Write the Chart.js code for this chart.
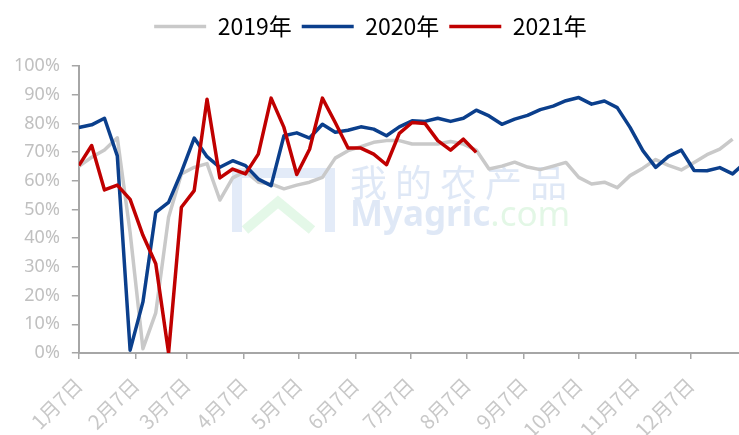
<!DOCTYPE html>
<html>
<head>
<meta charset="utf-8">
<script src="https://cdn.jsdelivr.net/npm/chart.js@4.4.0/dist/chart.umd.min.js"></script>
<style>
  body { margin: 0; background: #fff; }
  #wrap { width: 739px; height: 435px; }
</style>
</head>
<body>
<div id="wrap"><canvas id="rateChart" width="739" height="435"></canvas></div>
<script>
// weekly values (%), one point per week starting 1月7日
const seriesNames = ["2019年", "2020年", "2021年"];
const y2019 = [65, 68.2, 70.7, 75, 42, 1.5, 14, 47.3, 62.4, 64.7,
  66, 53.3, 61, 63.3, 59.5, 58.9, 57.2, 58.5, 59.5, 61.2,
  67.9, 70.5, 71.9, 73.4, 74, 74, 72.8, 72.8, 72.8, 73.7,
  72.8, 70.7, 64.1, 65.1, 66.5, 64.8, 63.9, 65.1, 66.4, 61.2,
  58.9, 59.5, 57.6, 61.8, 64.4, 67.4, 65.4, 63.8, 66.4, 69.1,
  71, 74.5];
const y2020 = [78.6, 79.5, 81.8, 68.7, 1, 17.8, 49, 52.5, 63, 74.9,
  68.4, 64.7, 67, 65.3, 60.6, 58.3, 75.7, 76.7, 74.9, 79.7,
  76.9, 77.6, 78.8, 78, 75.7, 78.8, 80.9, 80.7, 81.8, 80.7,
  81.8, 84.6, 82.6, 79.7, 81.5, 82.8, 84.8, 86, 87.9, 89,
  86.7, 87.8, 85.5, 78.6, 70.5, 64.7, 68.5, 70.7, 63.6, 63.5,
  64.6, 62.4, 66.5];
const y2021 = [65.3, 72.3, 56.8, 58.5, 53.5, 41, 31.1, 0, 50.8, 56.6,
  88.4, 61, 64.1, 62.4, 69.3, 88.8, 78.6, 62.2, 71, 88.8,
  80.3, 71.4, 71.4, 69.3, 65.6, 76.5, 80.3, 80, 74, 70.7,
  74.5, 69.9];
const monthLabels = ["1月7日", "2月7日", "3月7日", "4月7日", "5月7日", "6月7日",
  "7月7日", "8月7日", "9月7日", "10月7日", "11月7日", "12月7日"];
const monthDays = [0, 31, 59, 90, 120, 151, 181, 212, 243, 273, 304, 334];
const colors = ["#c9c9c9", "#0b3f8c", "#c00000"];

const toPoints = (vals) => vals.map((v, i) => ({ x: i * 7, y: v }));

// extra room under the legend
const legendGap = {
  id: "legendGap",
  beforeInit(chart) {
    const fit = chart.legend.fit;
    chart.legend.fit = function () {
      fit.call(this);
      this.height += 18;
    };
  }
};

const watermark = {
  id: "watermark",
  beforeDatasetsDraw(chart) {
    const ctx = chart.ctx;
    ctx.save();
    ctx.globalAlpha = 0.22;
    ctx.strokeStyle = "#7fa3e0";
    ctx.lineWidth = 10;
    ctx.beginPath();
    ctx.moveTo(237, 232); ctx.lineTo(237, 173); ctx.lineTo(330, 173); ctx.lineTo(330, 232);
    ctx.stroke();
    ctx.strokeStyle = "#86e094";
    ctx.beginPath();
    ctx.moveTo(245, 230); ctx.lineTo(278, 202); ctx.lineTo(312, 230);
    ctx.stroke();
    ctx.fillStyle = "#6f96d8";
    ctx.font = "37px 'Noto Sans CJK SC'";
    ctx.textBaseline = "top";
    [..."我的农产品"].forEach((ch, i) => ctx.fillText(ch, 350 + i * 45, 164));
    ctx.font = "bold 35px 'Noto Sans'";
    ctx.fillText("Myagric", 350, 199);
    const w = ctx.measureText("Myagric").width;
    ctx.fillStyle = "#7fdc8c";
    ctx.font = "35px 'Noto Sans'";
    ctx.fillText(".com", 350 + w, 199);
    ctx.restore();
  }
};

new Chart(document.getElementById("rateChart"), {
  type: "line",
  data: {
    datasets: [y2019, y2020, y2021].map((vals, i) => ({
      label: seriesNames[i],
      data: toPoints(vals),
      borderColor: colors[i],
      backgroundColor: colors[i],
      borderWidth: 3.5,
      pointRadius: 0,
      pointStyle: "line",
      borderJoinStyle: "round",
      order: 3 - i,
    })),
  },
  options: {
    responsive: false,
    animation: false,
    layout: { padding: { left: 2, right: 0, top: 5, bottom: 0 } },
    plugins: {
      tooltip: { enabled: false },
      legend: {
        position: "top",
        labels: {
          usePointStyle: true,
          pointStyleWidth: 52,
          color: "#000",
          font: { family: "'Noto Sans CJK SC'", size: 23 },
          padding: 10,
          sort: (a, b) => a.datasetIndex - b.datasetIndex,
        },
      },
    },
    scales: {
      x: {
        type: "linear",
        min: 0,
        max: 360.5,
        afterBuildTicks: (scale) => {
          scale.ticks = monthDays.map((d) => ({ value: d }));
        },
        afterFit: (scale) => {
          scale.paddingRight = 0;
          scale.height = 82;
        },
        ticks: {
          autoSkip: false,
          minRotation: 45,
          maxRotation: 45,
          color: "#c8c8c8",
          font: { family: "'Noto Sans CJK SC'", size: 20 },
          padding: 14,
          callback: (v) => monthLabels[monthDays.indexOf(v)],
        },
        grid: { drawOnChartArea: false, tickLength: 6, color: "#a6a6a6", lineWidth: 1.5 },
        border: { color: "#a6a6a6", width: 2 },
      },
      y: {
        min: 0,
        max: 100,
        ticks: {
          stepSize: 10,
          color: "#c0c0c0",
          font: { family: "'Noto Sans'", size: 18 },
          padding: 12,
          callback: (v) => v + "%",
        },
        grid: { drawOnChartArea: false, tickLength: 7, color: "#a6a6a6", lineWidth: 1.5 },
        border: { color: "#a6a6a6", width: 2 },
      },
    },
  },
  plugins: [legendGap, watermark],
});
</script>
</body>
</html>
